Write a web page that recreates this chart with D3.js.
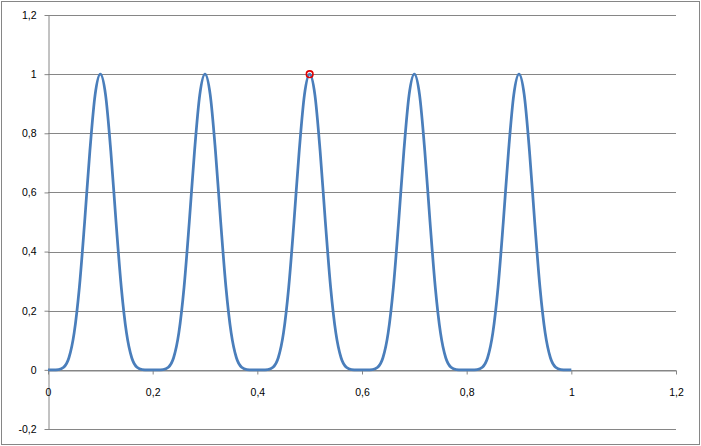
<!DOCTYPE html>
<html>
<head>
<meta charset="utf-8">
<script src="https://cdn.jsdelivr.net/npm/d3@7"></script>
<style>
  html, body { margin: 0; padding: 0; background: #fff; }
  svg { display: block; }
  text { font-family: "Liberation Sans", Arial, sans-serif; font-size: 10.5px; fill: #000; }
</style>
</head>
<body>
<svg id="chart" width="701" height="446"></svg>
<script>
// ---- data ----
const xValues = [
  0.00,0.01,0.02,0.03,0.04,0.05,0.06,0.07,0.08,0.09,
  0.10,0.11,0.12,0.13,0.14,0.15,0.16,0.17,0.18,0.19,
  0.20,0.21,0.22,0.23,0.24,0.25,0.26,0.27,0.28,0.29,
  0.30,0.31,0.32,0.33,0.34,0.35,0.36,0.37,0.38,0.39,
  0.40,0.41,0.42,0.43,0.44,0.45,0.46,0.47,0.48,0.49,
  0.50,0.51,0.52,0.53,0.54,0.55,0.56,0.57,0.58,0.59,
  0.60,0.61,0.62,0.63,0.64,0.65,0.66,0.67,0.68,0.69,
  0.70,0.71,0.72,0.73,0.74,0.75,0.76,0.77,0.78,0.79,
  0.80,0.81,0.82,0.83,0.84,0.85,0.86,0.87,0.88,0.89,
  0.90,0.91,0.92,0.93,0.94,0.95,0.96,0.97,0.98,0.99,
  1.00
];
const yValues = [
  0,0,0.001,0.009,0.041,0.125,0.28,0.5,0.74,0.93,
  1,0.93,0.74,0.5,0.28,0.125,0.041,0.009,0.001,0,
  0,0,0.001,0.009,0.041,0.125,0.28,0.5,0.74,0.93,
  1,0.93,0.74,0.5,0.28,0.125,0.041,0.009,0.001,0,
  0,0,0.001,0.009,0.041,0.125,0.28,0.5,0.74,0.93,
  1,0.93,0.74,0.5,0.28,0.125,0.041,0.009,0.001,0,
  0,0,0.001,0.009,0.041,0.125,0.28,0.5,0.74,0.93,
  1,0.93,0.74,0.5,0.28,0.125,0.041,0.009,0.001,0,
  0,0,0.001,0.009,0.041,0.125,0.28,0.5,0.74,0.93,
  1,0.93,0.74,0.5,0.28,0.125,0.041,0.009,0.001,0,
  0
];
const markerX = [0.5];
const markerY = [1];
const xTicks = [0, 0.2, 0.4, 0.6, 0.8, 1, 1.2];
const yTicks = [-0.2, 0, 0.2, 0.4, 0.6, 0.8, 1, 1.2];

const fmt = v => String(+v.toFixed(1)).replace('.', ',');

const svg = d3.select('#chart');
const gridColor = '#868686';

// outer border
svg.append('rect')
  .attr('x', 1.5).attr('y', 1.5)
  .attr('width', 698).attr('height', 443)
  .attr('fill', '#fff').attr('stroke', gridColor).attr('stroke-width', 1);

const x = d3.scaleLinear().domain([0, 1.2]).range([48, 676]);
const y = d3.scaleLinear().domain([-0.2, 1.2]).range([429, 15]);

// horizontal gridlines
svg.append('g').selectAll('line').data(yTicks).join('line')
  .attr('x1', x(0)).attr('x2', x(1.2))
  .attr('y1', d => Math.round(y(d)) + 0.5).attr('y2', d => Math.round(y(d)) + 0.5)
  .attr('stroke', gridColor).attr('stroke-width', 1);

// y axis
const yAxis = svg.append('g')
  .attr('transform', `translate(${Math.round(x(0)) + 0.5},0)`)
  .call(d3.axisLeft(y).tickValues(yTicks).tickFormat(fmt).tickSize(4).tickPadding(8).tickSizeOuter(0));
yAxis.select('.domain').attr('stroke', gridColor);
yAxis.selectAll('.tick line').attr('stroke', gridColor);
yAxis.selectAll('.tick text').style('font-family', '"Liberation Sans", Arial, sans-serif').style('font-size', '10.5px').attr('fill', '#000');

// x axis at y = 0
const xAxis = svg.append('g')
  .attr('transform', `translate(0,${Math.round(y(0)) + 0.5})`)
  .call(d3.axisBottom(x).tickValues(xTicks).tickFormat(fmt).tickSize(4).tickPadding(14).tickSizeOuter(0));
xAxis.select('.domain').attr('stroke', gridColor);
xAxis.selectAll('.tick line').attr('stroke', gridColor);
xAxis.selectAll('.tick text').style('font-family', '"Liberation Sans", Arial, sans-serif').style('font-size', '10.5px').attr('fill', '#000');

// series line
const pts = xValues.map((v, i) => [v, yValues[i]]);
const line = d3.line().x(d => x(d[0])).y(d => y(d[1])).curve(d3.curveMonotoneX);
svg.append('path')
  .datum(pts)
  .attr('d', line)
  .attr('fill', 'none')
  .attr('stroke', '#4a7ebb')
  .attr('stroke-width', 2.75)
  .attr('stroke-linejoin', 'round');

// red marker
svg.append('g').selectAll('circle').data(markerX.map((v, i) => [v, markerY[i]])).join('circle')
  .attr('cx', d => x(d[0])).attr('cy', d => y(d[1]))
  .attr('r', 3.3)
  .attr('fill', 'none')
  .attr('stroke', '#e00000')
  .attr('stroke-width', 1.6);
</script>
</body>
</html>
